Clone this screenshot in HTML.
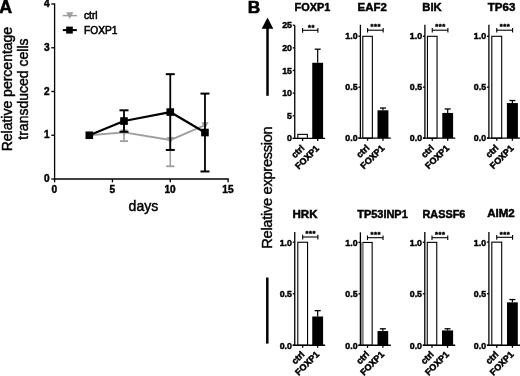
<!DOCTYPE html>
<html lang="en">
<head>
<meta charset="utf-8">
<title>Figure</title>
<style>
html,body{margin:0;padding:0;background:#fff;}
body{width:520px;height:376px;overflow:hidden;}
svg{display:block;font-family:"Liberation Sans", Arial, sans-serif;will-change:transform;opacity:0.999;filter:blur(0.4px);}
svg text{font-family:"Liberation Sans", Arial, sans-serif;}
</style>
</head>
<body>
<svg width="520" height="376" viewBox="0 0 520 376">
<rect x="0" y="0" width="520" height="376" fill="#fff"/>
<text x="-0.80" y="12.60" font-size="17.8" font-weight="bold" text-anchor="start" fill="#000" stroke="#000" stroke-width="0.6">A</text>
<line x1="54.60" y1="3.35" x2="54.60" y2="179.65" stroke="#000" stroke-width="1.3" />
<line x1="53.95" y1="179.00" x2="228.75" y2="179.00" stroke="#000" stroke-width="1.3" />
<line x1="51.30" y1="179.00" x2="54.60" y2="179.00" stroke="#000" stroke-width="1.3" />
<text x="49.60" y="182.10" font-size="10.1" font-weight="bold" text-anchor="end" fill="#000" stroke="#000" stroke-width="0.45">0</text>
<line x1="51.30" y1="135.25" x2="54.60" y2="135.25" stroke="#000" stroke-width="1.3" />
<text x="49.60" y="138.35" font-size="10.1" font-weight="bold" text-anchor="end" fill="#000" stroke="#000" stroke-width="0.45">1</text>
<line x1="51.30" y1="91.50" x2="54.60" y2="91.50" stroke="#000" stroke-width="1.3" />
<text x="49.60" y="94.60" font-size="10.1" font-weight="bold" text-anchor="end" fill="#000" stroke="#000" stroke-width="0.45">2</text>
<line x1="51.30" y1="47.75" x2="54.60" y2="47.75" stroke="#000" stroke-width="1.3" />
<text x="49.60" y="50.85" font-size="10.1" font-weight="bold" text-anchor="end" fill="#000" stroke="#000" stroke-width="0.45">3</text>
<line x1="51.30" y1="4.00" x2="54.60" y2="4.00" stroke="#000" stroke-width="1.3" />
<text x="49.60" y="7.10" font-size="10.1" font-weight="bold" text-anchor="end" fill="#000" stroke="#000" stroke-width="0.45">4</text>
<line x1="54.60" y1="179.00" x2="54.60" y2="182.30" stroke="#000" stroke-width="1.3" />
<text x="54.40" y="193.20" font-size="10.1" font-weight="bold" text-anchor="middle" fill="#000" stroke="#000" stroke-width="0.45">0</text>
<line x1="112.43" y1="179.00" x2="112.43" y2="182.30" stroke="#000" stroke-width="1.3" />
<text x="112.23" y="193.20" font-size="10.1" font-weight="bold" text-anchor="middle" fill="#000" stroke="#000" stroke-width="0.45">5</text>
<line x1="170.27" y1="179.00" x2="170.27" y2="182.30" stroke="#000" stroke-width="1.3" />
<text x="170.07" y="193.20" font-size="10.1" font-weight="bold" text-anchor="middle" fill="#000" stroke="#000" stroke-width="0.45">10</text>
<line x1="228.10" y1="179.00" x2="228.10" y2="182.30" stroke="#000" stroke-width="1.3" />
<text x="227.90" y="193.20" font-size="10.1" font-weight="bold" text-anchor="middle" fill="#000" stroke="#000" stroke-width="0.45">15</text>
<text x="143.40" y="210.50" font-size="14" font-weight="normal" text-anchor="middle" fill="#000" stroke="#000" stroke-width="0.45">days</text>
<text x="11.70" y="89.10" font-size="14" font-weight="normal" text-anchor="middle" fill="#000" transform="rotate(-90 11.70 89.10)" stroke="#000" stroke-width="0.45">Relative percentage</text>
<text x="28.00" y="89.10" font-size="14" font-weight="normal" text-anchor="middle" fill="#000" transform="rotate(-90 28.00 89.10)" stroke="#000" stroke-width="0.45">transduced cells</text>
<line x1="124.00" y1="123.66" x2="124.00" y2="141.16" stroke="#9e9e9e" stroke-width="1.6" />
<line x1="119.90" y1="123.66" x2="128.10" y2="123.66" stroke="#9e9e9e" stroke-width="1.8" />
<line x1="119.90" y1="141.16" x2="128.10" y2="141.16" stroke="#9e9e9e" stroke-width="1.8" />
<line x1="170.27" y1="113.81" x2="170.27" y2="166.31" stroke="#9e9e9e" stroke-width="1.6" />
<line x1="166.17" y1="113.81" x2="174.37" y2="113.81" stroke="#9e9e9e" stroke-width="1.8" />
<line x1="166.17" y1="166.31" x2="174.37" y2="166.31" stroke="#9e9e9e" stroke-width="1.8" />
<polyline points="89.30,135.25 124.00,132.41 170.27,140.06 204.97,125.19" fill="none" stroke="#9e9e9e" stroke-width="1.9" stroke-linejoin="round"/>
<polygon points="85.60,132.25 93.00,132.25 89.30,138.85" fill="#9e9e9e"/>
<polygon points="120.30,129.41 127.70,129.41 124.00,136.01" fill="#9e9e9e"/>
<polygon points="166.57,137.06 173.97,137.06 170.27,143.66" fill="#9e9e9e"/>
<polygon points="201.27,122.19 208.67,122.19 204.97,128.79" fill="#9e9e9e"/>
<line x1="124.00" y1="110.31" x2="124.00" y2="131.75" stroke="#000" stroke-width="1.8" />
<line x1="119.50" y1="110.31" x2="128.50" y2="110.31" stroke="#000" stroke-width="2.0" />
<line x1="119.50" y1="131.75" x2="128.50" y2="131.75" stroke="#000" stroke-width="2.0" />
<line x1="170.27" y1="74.17" x2="170.27" y2="149.95" stroke="#000" stroke-width="1.8" />
<line x1="165.77" y1="74.17" x2="174.77" y2="74.17" stroke="#000" stroke-width="2.0" />
<line x1="165.77" y1="149.95" x2="174.77" y2="149.95" stroke="#000" stroke-width="2.0" />
<line x1="204.97" y1="93.60" x2="204.97" y2="171.47" stroke="#000" stroke-width="1.8" />
<line x1="200.47" y1="93.60" x2="209.47" y2="93.60" stroke="#000" stroke-width="2.0" />
<line x1="200.47" y1="171.47" x2="209.47" y2="171.47" stroke="#000" stroke-width="2.0" />
<polyline points="89.30,135.25 124.00,121.03 170.27,112.06 204.97,132.54" fill="none" stroke="#000" stroke-width="2.2" stroke-linejoin="round"/>
<rect x="85.50" y="131.45" width="7.6" height="7.6" fill="#000"/>
<rect x="120.20" y="117.23" width="7.6" height="7.6" fill="#000"/>
<rect x="166.47" y="108.26" width="7.6" height="7.6" fill="#000"/>
<rect x="201.17" y="128.74" width="7.6" height="7.6" fill="#000"/>
<line x1="62.80" y1="15.60" x2="76.90" y2="15.60" stroke="#9e9e9e" stroke-width="1.5" />
<polygon points="66.2,12.3 73.4,12.3 69.8,19.0" fill="#9e9e9e"/>
<text x="84.00" y="19.00" font-size="10.2" font-weight="normal" text-anchor="start" fill="#000" stroke="#000" stroke-width="0.55">ctrl</text>
<line x1="62.80" y1="30.10" x2="76.90" y2="30.10" stroke="#000" stroke-width="2.0" />
<rect x="66.2" y="26.6" width="6.6" height="7.0" fill="#000"/>
<text x="84.00" y="33.60" font-size="10.2" font-weight="normal" text-anchor="start" fill="#000" stroke="#000" stroke-width="0.55">FOXP1</text>
<text x="247.70" y="12.60" font-size="17.3" font-weight="bold" text-anchor="start" fill="#000" stroke="#000" stroke-width="0.6">B</text>
<polygon points="267.5,17.6 261.7,28.8 273.3,28.8" fill="#000"/>
<line x1="267.50" y1="28.00" x2="267.50" y2="95.80" stroke="#000" stroke-width="2.5" />
<line x1="267.30" y1="277.50" x2="267.30" y2="343.60" stroke="#000" stroke-width="2.5" />
<text x="272.00" y="187.50" font-size="14.6" font-weight="normal" text-anchor="middle" fill="#000" transform="rotate(-90 272.00 187.50)" stroke="#000" stroke-width="0.4" textLength="122.4">Relative expression</text>
<rect x="297.80" y="134.37" width="9.55" height="4.08" fill="#fff" stroke="#000" stroke-width="1.1"/>
<rect x="312.25" y="62.78" width="10.85" height="75.62" fill="#000"/>
<line x1="317.68" y1="62.78" x2="317.68" y2="49.20" stroke="#000" stroke-width="1.2" />
<line x1="314.68" y1="49.20" x2="320.68" y2="49.20" stroke="#000" stroke-width="1.3" />
<line x1="294.75" y1="25.20" x2="294.75" y2="139.05" stroke="#000" stroke-width="1.3" />
<line x1="292.75" y1="138.40" x2="325.15" y2="138.40" stroke="#000" stroke-width="1.4000000000000001" />
<line x1="292.75" y1="138.40" x2="294.75" y2="138.40" stroke="#000" stroke-width="1.3" />
<text x="291.95" y="141.45" font-size="8.8" font-weight="bold" text-anchor="end" fill="#000" stroke="#000" stroke-width="0.45">0</text>
<line x1="292.75" y1="115.76" x2="294.75" y2="115.76" stroke="#000" stroke-width="1.3" />
<text x="291.95" y="118.81" font-size="8.8" font-weight="bold" text-anchor="end" fill="#000" stroke="#000" stroke-width="0.45">5</text>
<line x1="292.75" y1="93.12" x2="294.75" y2="93.12" stroke="#000" stroke-width="1.3" />
<text x="291.95" y="96.17" font-size="8.8" font-weight="bold" text-anchor="end" fill="#000" stroke="#000" stroke-width="0.45">10</text>
<line x1="292.75" y1="70.48" x2="294.75" y2="70.48" stroke="#000" stroke-width="1.3" />
<text x="291.95" y="73.53" font-size="8.8" font-weight="bold" text-anchor="end" fill="#000" stroke="#000" stroke-width="0.45">15</text>
<line x1="292.75" y1="47.84" x2="294.75" y2="47.84" stroke="#000" stroke-width="1.3" />
<text x="291.95" y="50.89" font-size="8.8" font-weight="bold" text-anchor="end" fill="#000" stroke="#000" stroke-width="0.45">20</text>
<line x1="292.75" y1="25.20" x2="294.75" y2="25.20" stroke="#000" stroke-width="1.3" />
<text x="291.95" y="28.25" font-size="8.8" font-weight="bold" text-anchor="end" fill="#000" stroke="#000" stroke-width="0.45">25</text>
<line x1="302.57" y1="138.40" x2="302.57" y2="141.00" stroke="#000" stroke-width="1.3" />
<line x1="317.68" y1="138.40" x2="317.68" y2="141.00" stroke="#000" stroke-width="1.3" />
<text x="304.97" y="148.70" font-size="9.0" font-weight="bold" text-anchor="end" fill="#000" transform="rotate(-45 304.97 148.70)" stroke="#000" stroke-width="0.5">ctrl</text>
<text x="319.68" y="148.90" font-size="9.0" font-weight="bold" text-anchor="end" fill="#000" transform="rotate(-45 319.68 148.90)" stroke="#000" stroke-width="0.5">FOXP1</text>
<text x="294.60" y="10.60" font-size="10.25" font-weight="bold" text-anchor="start" fill="#000" stroke="#000" stroke-width="0.45" textLength="35.6" lengthAdjust="spacingAndGlyphs">FOXP1</text>
<line x1="302.57" y1="30.30" x2="317.88" y2="30.30" stroke="#000" stroke-width="1.1" />
<line x1="302.57" y1="28.10" x2="302.57" y2="32.70" stroke="#000" stroke-width="1.1" />
<line x1="317.88" y1="28.10" x2="317.88" y2="32.70" stroke="#000" stroke-width="1.1" />
<text x="311.62" y="29.50" font-size="7.6" font-weight="bold" text-anchor="middle" fill="#000" stroke="#000" stroke-width="0.45" letter-spacing="0.55">**</text>
<rect x="362.80" y="36.30" width="9.55" height="101.85" fill="#fff" stroke="#000" stroke-width="1.1"/>
<rect x="377.50" y="110.29" width="10.90" height="27.81" fill="#000"/>
<line x1="382.95" y1="110.29" x2="382.95" y2="108.05" stroke="#000" stroke-width="1.2" />
<line x1="379.95" y1="108.05" x2="385.95" y2="108.05" stroke="#000" stroke-width="1.3" />
<line x1="360.40" y1="24.75" x2="360.40" y2="138.75" stroke="#000" stroke-width="1.3" />
<line x1="358.40" y1="138.10" x2="390.80" y2="138.10" stroke="#000" stroke-width="1.4000000000000001" />
<line x1="358.40" y1="138.10" x2="360.40" y2="138.10" stroke="#000" stroke-width="1.3" />
<text x="357.60" y="141.15" font-size="8.8" font-weight="bold" text-anchor="end" fill="#000" stroke="#000" stroke-width="0.45">0.0</text>
<line x1="358.40" y1="87.17" x2="360.40" y2="87.17" stroke="#000" stroke-width="1.3" />
<text x="357.60" y="90.22" font-size="8.8" font-weight="bold" text-anchor="end" fill="#000" stroke="#000" stroke-width="0.45">0.5</text>
<line x1="358.40" y1="36.25" x2="360.40" y2="36.25" stroke="#000" stroke-width="1.3" />
<text x="357.60" y="39.30" font-size="8.8" font-weight="bold" text-anchor="end" fill="#000" stroke="#000" stroke-width="0.45">1.0</text>
<line x1="367.57" y1="138.10" x2="367.57" y2="140.70" stroke="#000" stroke-width="1.3" />
<line x1="382.95" y1="138.10" x2="382.95" y2="140.70" stroke="#000" stroke-width="1.3" />
<text x="369.97" y="148.40" font-size="9.0" font-weight="bold" text-anchor="end" fill="#000" transform="rotate(-45 369.97 148.40)" stroke="#000" stroke-width="0.5">ctrl</text>
<text x="384.95" y="148.60" font-size="9.0" font-weight="bold" text-anchor="end" fill="#000" transform="rotate(-45 384.95 148.60)" stroke="#000" stroke-width="0.5">FOXP1</text>
<text x="357.60" y="10.60" font-size="10.25" font-weight="bold" text-anchor="start" fill="#000" stroke="#000" stroke-width="0.45" textLength="29.2" lengthAdjust="spacingAndGlyphs">EAF2</text>
<line x1="367.57" y1="30.20" x2="383.15" y2="30.20" stroke="#000" stroke-width="1.1" />
<line x1="367.57" y1="28.00" x2="367.57" y2="32.60" stroke="#000" stroke-width="1.1" />
<line x1="383.15" y1="28.00" x2="383.15" y2="32.60" stroke="#000" stroke-width="1.1" />
<text x="375.76" y="29.40" font-size="7.6" font-weight="bold" text-anchor="middle" fill="#000" stroke="#000" stroke-width="0.45" letter-spacing="0.55">***</text>
<rect x="427.45" y="36.30" width="9.60" height="101.85" fill="#fff" stroke="#000" stroke-width="1.1"/>
<rect x="442.30" y="112.94" width="10.80" height="25.16" fill="#000"/>
<line x1="447.70" y1="112.94" x2="447.70" y2="108.97" stroke="#000" stroke-width="1.2" />
<line x1="444.70" y1="108.97" x2="450.70" y2="108.97" stroke="#000" stroke-width="1.3" />
<line x1="424.90" y1="24.75" x2="424.90" y2="138.75" stroke="#000" stroke-width="1.3" />
<line x1="422.90" y1="138.10" x2="455.30" y2="138.10" stroke="#000" stroke-width="1.4000000000000001" />
<line x1="422.90" y1="138.10" x2="424.90" y2="138.10" stroke="#000" stroke-width="1.3" />
<text x="422.10" y="141.15" font-size="8.8" font-weight="bold" text-anchor="end" fill="#000" stroke="#000" stroke-width="0.45">0.0</text>
<line x1="422.90" y1="87.17" x2="424.90" y2="87.17" stroke="#000" stroke-width="1.3" />
<text x="422.10" y="90.22" font-size="8.8" font-weight="bold" text-anchor="end" fill="#000" stroke="#000" stroke-width="0.45">0.5</text>
<line x1="422.90" y1="36.25" x2="424.90" y2="36.25" stroke="#000" stroke-width="1.3" />
<text x="422.10" y="39.30" font-size="8.8" font-weight="bold" text-anchor="end" fill="#000" stroke="#000" stroke-width="0.45">1.0</text>
<line x1="432.25" y1="138.10" x2="432.25" y2="140.70" stroke="#000" stroke-width="1.3" />
<line x1="447.70" y1="138.10" x2="447.70" y2="140.70" stroke="#000" stroke-width="1.3" />
<text x="434.65" y="148.40" font-size="9.0" font-weight="bold" text-anchor="end" fill="#000" transform="rotate(-45 434.65 148.40)" stroke="#000" stroke-width="0.5">ctrl</text>
<text x="449.70" y="148.60" font-size="9.0" font-weight="bold" text-anchor="end" fill="#000" transform="rotate(-45 449.70 148.60)" stroke="#000" stroke-width="0.5">FOXP1</text>
<text x="422.30" y="10.60" font-size="10.25" font-weight="bold" text-anchor="start" fill="#000" stroke="#000" stroke-width="0.45" textLength="19.4" lengthAdjust="spacingAndGlyphs">BIK</text>
<line x1="432.25" y1="30.20" x2="447.90" y2="30.20" stroke="#000" stroke-width="1.1" />
<line x1="432.25" y1="28.00" x2="432.25" y2="32.60" stroke="#000" stroke-width="1.1" />
<line x1="447.90" y1="28.00" x2="447.90" y2="32.60" stroke="#000" stroke-width="1.1" />
<text x="440.48" y="29.40" font-size="7.6" font-weight="bold" text-anchor="middle" fill="#000" stroke="#000" stroke-width="0.45" letter-spacing="0.55">***</text>
<rect x="491.80" y="36.30" width="9.90" height="101.85" fill="#fff" stroke="#000" stroke-width="1.1"/>
<rect x="506.90" y="103.06" width="11.00" height="35.04" fill="#000"/>
<line x1="512.40" y1="103.06" x2="512.40" y2="100.52" stroke="#000" stroke-width="1.2" />
<line x1="509.40" y1="100.52" x2="515.40" y2="100.52" stroke="#000" stroke-width="1.3" />
<line x1="488.90" y1="24.75" x2="488.90" y2="138.75" stroke="#000" stroke-width="1.3" />
<line x1="486.90" y1="138.10" x2="520.00" y2="138.10" stroke="#000" stroke-width="1.4000000000000001" />
<line x1="486.90" y1="138.10" x2="488.90" y2="138.10" stroke="#000" stroke-width="1.3" />
<text x="486.10" y="141.15" font-size="8.8" font-weight="bold" text-anchor="end" fill="#000" stroke="#000" stroke-width="0.45">0.0</text>
<line x1="486.90" y1="87.17" x2="488.90" y2="87.17" stroke="#000" stroke-width="1.3" />
<text x="486.10" y="90.22" font-size="8.8" font-weight="bold" text-anchor="end" fill="#000" stroke="#000" stroke-width="0.45">0.5</text>
<line x1="486.90" y1="36.25" x2="488.90" y2="36.25" stroke="#000" stroke-width="1.3" />
<text x="486.10" y="39.30" font-size="8.8" font-weight="bold" text-anchor="end" fill="#000" stroke="#000" stroke-width="0.45">1.0</text>
<line x1="496.75" y1="138.10" x2="496.75" y2="140.70" stroke="#000" stroke-width="1.3" />
<line x1="512.40" y1="138.10" x2="512.40" y2="140.70" stroke="#000" stroke-width="1.3" />
<text x="499.15" y="148.40" font-size="9.0" font-weight="bold" text-anchor="end" fill="#000" transform="rotate(-45 499.15 148.40)" stroke="#000" stroke-width="0.5">ctrl</text>
<text x="514.40" y="148.60" font-size="9.0" font-weight="bold" text-anchor="end" fill="#000" transform="rotate(-45 514.40 148.60)" stroke="#000" stroke-width="0.5">FOXP1</text>
<text x="487.80" y="10.60" font-size="10.25" font-weight="bold" text-anchor="start" fill="#000" stroke="#000" stroke-width="0.45" textLength="27.5" lengthAdjust="spacingAndGlyphs">TP63</text>
<line x1="496.75" y1="30.20" x2="512.60" y2="30.20" stroke="#000" stroke-width="1.1" />
<line x1="496.75" y1="28.00" x2="496.75" y2="32.60" stroke="#000" stroke-width="1.1" />
<line x1="512.60" y1="28.00" x2="512.60" y2="32.60" stroke="#000" stroke-width="1.1" />
<text x="505.07" y="29.40" font-size="7.6" font-weight="bold" text-anchor="middle" fill="#000" stroke="#000" stroke-width="0.45" letter-spacing="0.55">***</text>
<rect x="297.80" y="242.25" width="9.75" height="103.05" fill="#fff" stroke="#000" stroke-width="1.1"/>
<rect x="312.25" y="316.50" width="10.85" height="28.75" fill="#000"/>
<line x1="317.68" y1="316.50" x2="317.68" y2="310.63" stroke="#000" stroke-width="1.2" />
<line x1="314.68" y1="310.63" x2="320.68" y2="310.63" stroke="#000" stroke-width="1.3" />
<line x1="294.75" y1="231.90" x2="294.75" y2="345.90" stroke="#000" stroke-width="1.3" />
<line x1="292.75" y1="345.25" x2="325.15" y2="345.25" stroke="#000" stroke-width="1.4000000000000001" />
<line x1="292.75" y1="345.25" x2="294.75" y2="345.25" stroke="#000" stroke-width="1.3" />
<text x="291.95" y="348.80" font-size="8.8" font-weight="bold" text-anchor="end" fill="#000" stroke="#000" stroke-width="0.45">0.0</text>
<line x1="292.75" y1="293.73" x2="294.75" y2="293.73" stroke="#000" stroke-width="1.3" />
<text x="291.95" y="297.28" font-size="8.8" font-weight="bold" text-anchor="end" fill="#000" stroke="#000" stroke-width="0.45">0.5</text>
<line x1="292.75" y1="242.20" x2="294.75" y2="242.20" stroke="#000" stroke-width="1.3" />
<text x="291.95" y="245.75" font-size="8.8" font-weight="bold" text-anchor="end" fill="#000" stroke="#000" stroke-width="0.45">1.0</text>
<line x1="302.68" y1="345.25" x2="302.68" y2="347.85" stroke="#000" stroke-width="1.3" />
<line x1="317.68" y1="345.25" x2="317.68" y2="347.85" stroke="#000" stroke-width="1.3" />
<text x="305.07" y="354.85" font-size="9.0" font-weight="bold" text-anchor="end" fill="#000" transform="rotate(-45 305.07 354.85)" stroke="#000" stroke-width="0.5">ctrl</text>
<text x="319.68" y="355.05" font-size="9.0" font-weight="bold" text-anchor="end" fill="#000" transform="rotate(-45 319.68 355.05)" stroke="#000" stroke-width="0.5">FOXP1</text>
<text x="292.50" y="217.70" font-size="10.25" font-weight="bold" text-anchor="start" fill="#000" stroke="#000" stroke-width="0.45" textLength="25.0" lengthAdjust="spacingAndGlyphs">HRK</text>
<line x1="302.68" y1="237.00" x2="317.88" y2="237.00" stroke="#000" stroke-width="1.1" />
<line x1="302.68" y1="234.80" x2="302.68" y2="239.40" stroke="#000" stroke-width="1.1" />
<line x1="317.88" y1="234.80" x2="317.88" y2="239.40" stroke="#000" stroke-width="1.1" />
<text x="310.67" y="236.20" font-size="7.6" font-weight="bold" text-anchor="middle" fill="#000" stroke="#000" stroke-width="0.45" letter-spacing="0.55">***</text>
<rect x="362.80" y="242.45" width="9.35" height="102.85" fill="#fff" stroke="#000" stroke-width="1.1"/>
<rect x="377.50" y="331.06" width="10.70" height="14.19" fill="#000"/>
<line x1="382.85" y1="331.06" x2="382.85" y2="328.79" stroke="#000" stroke-width="1.2" />
<line x1="379.85" y1="328.79" x2="385.85" y2="328.79" stroke="#000" stroke-width="1.3" />
<rect x="360.40" y="242.40" width="2.35" height="102.85" fill="#999"/>
<line x1="360.40" y1="232.30" x2="360.40" y2="345.90" stroke="#000" stroke-width="1.3" />
<line x1="358.40" y1="345.25" x2="390.80" y2="345.25" stroke="#000" stroke-width="1.4000000000000001" />
<line x1="358.40" y1="345.25" x2="360.40" y2="345.25" stroke="#000" stroke-width="1.3" />
<text x="357.60" y="348.80" font-size="8.8" font-weight="bold" text-anchor="end" fill="#000" stroke="#000" stroke-width="0.45">0.0</text>
<line x1="358.40" y1="293.82" x2="360.40" y2="293.82" stroke="#000" stroke-width="1.3" />
<text x="357.60" y="297.38" font-size="8.8" font-weight="bold" text-anchor="end" fill="#000" stroke="#000" stroke-width="0.45">0.5</text>
<line x1="358.40" y1="242.40" x2="360.40" y2="242.40" stroke="#000" stroke-width="1.3" />
<text x="357.60" y="245.95" font-size="8.8" font-weight="bold" text-anchor="end" fill="#000" stroke="#000" stroke-width="0.45">1.0</text>
<line x1="367.48" y1="345.25" x2="367.48" y2="347.85" stroke="#000" stroke-width="1.3" />
<line x1="382.85" y1="345.25" x2="382.85" y2="347.85" stroke="#000" stroke-width="1.3" />
<text x="369.88" y="354.85" font-size="9.0" font-weight="bold" text-anchor="end" fill="#000" transform="rotate(-45 369.88 354.85)" stroke="#000" stroke-width="0.5">ctrl</text>
<text x="384.85" y="355.05" font-size="9.0" font-weight="bold" text-anchor="end" fill="#000" transform="rotate(-45 384.85 355.05)" stroke="#000" stroke-width="0.5">FOXP1</text>
<text x="357.20" y="218.00" font-size="10.25" font-weight="bold" text-anchor="start" fill="#000" stroke="#000" stroke-width="0.45" textLength="50.6" lengthAdjust="spacingAndGlyphs">TP53INP1</text>
<line x1="367.48" y1="237.70" x2="383.05" y2="237.70" stroke="#000" stroke-width="1.1" />
<line x1="367.48" y1="235.50" x2="367.48" y2="240.10" stroke="#000" stroke-width="1.1" />
<line x1="383.05" y1="235.50" x2="383.05" y2="240.10" stroke="#000" stroke-width="1.1" />
<text x="375.66" y="236.90" font-size="7.6" font-weight="bold" text-anchor="middle" fill="#000" stroke="#000" stroke-width="0.45" letter-spacing="0.55">***</text>
<rect x="427.25" y="242.35" width="9.50" height="102.95" fill="#fff" stroke="#000" stroke-width="1.1"/>
<rect x="442.00" y="330.43" width="11.10" height="14.82" fill="#000"/>
<line x1="447.55" y1="330.43" x2="447.55" y2="328.78" stroke="#000" stroke-width="1.2" />
<line x1="444.55" y1="328.78" x2="450.55" y2="328.78" stroke="#000" stroke-width="1.3" />
<line x1="424.80" y1="231.90" x2="424.80" y2="345.90" stroke="#000" stroke-width="1.3" />
<line x1="422.80" y1="345.25" x2="455.20" y2="345.25" stroke="#000" stroke-width="1.4000000000000001" />
<line x1="422.80" y1="345.25" x2="424.80" y2="345.25" stroke="#000" stroke-width="1.3" />
<text x="422.00" y="348.80" font-size="8.8" font-weight="bold" text-anchor="end" fill="#000" stroke="#000" stroke-width="0.45">0.0</text>
<line x1="422.80" y1="293.77" x2="424.80" y2="293.77" stroke="#000" stroke-width="1.3" />
<text x="422.00" y="297.32" font-size="8.8" font-weight="bold" text-anchor="end" fill="#000" stroke="#000" stroke-width="0.45">0.5</text>
<line x1="422.80" y1="242.30" x2="424.80" y2="242.30" stroke="#000" stroke-width="1.3" />
<text x="422.00" y="245.85" font-size="8.8" font-weight="bold" text-anchor="end" fill="#000" stroke="#000" stroke-width="0.45">1.0</text>
<line x1="432.00" y1="345.25" x2="432.00" y2="347.85" stroke="#000" stroke-width="1.3" />
<line x1="447.55" y1="345.25" x2="447.55" y2="347.85" stroke="#000" stroke-width="1.3" />
<text x="434.40" y="354.85" font-size="9.0" font-weight="bold" text-anchor="end" fill="#000" transform="rotate(-45 434.40 354.85)" stroke="#000" stroke-width="0.5">ctrl</text>
<text x="449.55" y="355.05" font-size="9.0" font-weight="bold" text-anchor="end" fill="#000" transform="rotate(-45 449.55 355.05)" stroke="#000" stroke-width="0.5">FOXP1</text>
<text x="422.50" y="218.40" font-size="10.25" font-weight="bold" text-anchor="start" fill="#000" stroke="#000" stroke-width="0.45" textLength="42.8" lengthAdjust="spacingAndGlyphs">RASSF6</text>
<line x1="432.00" y1="237.70" x2="447.75" y2="237.70" stroke="#000" stroke-width="1.1" />
<line x1="432.00" y1="235.50" x2="432.00" y2="240.10" stroke="#000" stroke-width="1.1" />
<line x1="447.75" y1="235.50" x2="447.75" y2="240.10" stroke="#000" stroke-width="1.1" />
<text x="440.27" y="236.90" font-size="7.6" font-weight="bold" text-anchor="middle" fill="#000" stroke="#000" stroke-width="0.45" letter-spacing="0.55">***</text>
<rect x="491.80" y="242.15" width="9.90" height="103.15" fill="#fff" stroke="#000" stroke-width="1.1"/>
<rect x="507.00" y="302.34" width="10.80" height="42.91" fill="#000"/>
<line x1="512.40" y1="302.34" x2="512.40" y2="299.55" stroke="#000" stroke-width="1.2" />
<line x1="509.40" y1="299.55" x2="515.40" y2="299.55" stroke="#000" stroke-width="1.3" />
<line x1="488.90" y1="231.90" x2="488.90" y2="345.90" stroke="#000" stroke-width="1.3" />
<line x1="486.90" y1="345.25" x2="520.00" y2="345.25" stroke="#000" stroke-width="1.4000000000000001" />
<line x1="486.90" y1="345.25" x2="488.90" y2="345.25" stroke="#000" stroke-width="1.3" />
<text x="486.10" y="348.80" font-size="8.8" font-weight="bold" text-anchor="end" fill="#000" stroke="#000" stroke-width="0.45">0.0</text>
<line x1="486.90" y1="293.68" x2="488.90" y2="293.68" stroke="#000" stroke-width="1.3" />
<text x="486.10" y="297.23" font-size="8.8" font-weight="bold" text-anchor="end" fill="#000" stroke="#000" stroke-width="0.45">0.5</text>
<line x1="486.90" y1="242.10" x2="488.90" y2="242.10" stroke="#000" stroke-width="1.3" />
<text x="486.10" y="245.65" font-size="8.8" font-weight="bold" text-anchor="end" fill="#000" stroke="#000" stroke-width="0.45">1.0</text>
<line x1="496.75" y1="345.25" x2="496.75" y2="347.85" stroke="#000" stroke-width="1.3" />
<line x1="512.40" y1="345.25" x2="512.40" y2="347.85" stroke="#000" stroke-width="1.3" />
<text x="499.15" y="354.85" font-size="9.0" font-weight="bold" text-anchor="end" fill="#000" transform="rotate(-45 499.15 354.85)" stroke="#000" stroke-width="0.5">ctrl</text>
<text x="514.40" y="355.05" font-size="9.0" font-weight="bold" text-anchor="end" fill="#000" transform="rotate(-45 514.40 355.05)" stroke="#000" stroke-width="0.5">FOXP1</text>
<text x="487.20" y="217.30" font-size="10.25" font-weight="bold" text-anchor="start" fill="#000" stroke="#000" stroke-width="0.45" textLength="27.6" lengthAdjust="spacingAndGlyphs">AIM2</text>
<line x1="496.75" y1="237.30" x2="512.60" y2="237.30" stroke="#000" stroke-width="1.1" />
<line x1="496.75" y1="235.10" x2="496.75" y2="239.70" stroke="#000" stroke-width="1.1" />
<line x1="512.60" y1="235.10" x2="512.60" y2="239.70" stroke="#000" stroke-width="1.1" />
<text x="505.07" y="236.50" font-size="7.6" font-weight="bold" text-anchor="middle" fill="#000" stroke="#000" stroke-width="0.45" letter-spacing="0.55">***</text>
</svg>
</body>
</html>
